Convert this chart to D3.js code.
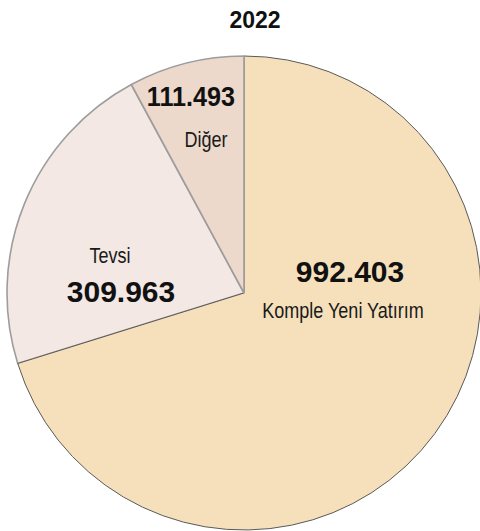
<!DOCTYPE html>
<html>
<head>
<meta charset="utf-8">
<script src="https://cdn.jsdelivr.net/npm/d3@7"></script>
<style>
  body { margin: 0; background: #fff; }
  svg { display: block; }
</style>
</head>
<body>
<svg id="chart" width="480" height="531"></svg>
<script>
var title = "2022";
var categories = ["Komple Yeni Yatırım", "Tevsi", "Diğer"];
var values = [992.403, 309.963, 111.493];
var valueLabels = ["992.403", "309.963", "111.493"];
var colors = ["#f5e0bb", "#f3e8e3", "#ecd9cc"];

var svg = d3.select("#chart");
var cx = 244, cy = 293, r = 237;

var data = categories.map(function (c, i) {
  return { name: c, value: values[i], label: valueLabels[i], color: colors[i] };
});

var pie = d3.pie().sort(null).value(function (d) { return d.value; });
var arcs = pie(data);
var arc = d3.arc().innerRadius(0).outerRadius(r);

var g = svg.append("g").attr("transform", "translate(" + cx + "," + cy + ")");

// draw order: Tevsi, Komple, Diğer so the edges overlap like the original
var order = [1, 0, 2];
order.forEach(function (i) {
  var a = arcs[i];
  g.append("path")
    .attr("d", arc(a))
    .attr("fill", a.data.color)
    .attr("stroke", i === 0 ? "#5a5a5a" : "#9d9d9d")
    .attr("stroke-width", i === 0 ? 1 : 1.6)
    .attr("stroke-linejoin", "round");
});

svg.append("text")
  .attr("x", 255).attr("y", 28)
  .attr("text-anchor", "middle")
  .style("font-family", "Liberation Sans, Arial, sans-serif")
  .style("font-weight", "bold")
  .style("font-size", "23px")
  .attr("fill", "#111")
  .text(title);

// label positions for each slice (value line + name line)
var labelPos = [
  { vx: 350, vy: 282, vs: 30, vsx: 1, nx: 343, ny: 318 },
  { vx: 121, vy: 302, vs: 30, vsx: 1, nx: 110, ny: 263 },
  { vx: 191, vy: 106, vs: 28, vsx: 0.9, nx: 206, ny: 147 }
];

data.forEach(function (d, i) {
  var p = labelPos[i];
  svg.append("text")
    .attr("transform", "translate(" + p.vx + "," + p.vy + ") scale(" + p.vsx + ",1)")
    .attr("text-anchor", "middle")
    .style("font-family", "Liberation Sans, Arial, sans-serif")
    .style("font-weight", "bold")
    .style("font-size", p.vs + "px")
    .attr("fill", "#111")
    .text(d.label);
  // condensed label: no narrow font installed, so squeeze horizontally
  svg.append("text")
    .attr("transform", "translate(" + p.nx + "," + p.ny + ") scale(0.82,1)")
    .attr("text-anchor", "middle")
    .style("font-family", "Liberation Sans, Arial, sans-serif")
    .style("font-size", "22px")
    .attr("fill", "#1a1a1a")
    .text(d.name);
});
</script>
</body>
</html>
